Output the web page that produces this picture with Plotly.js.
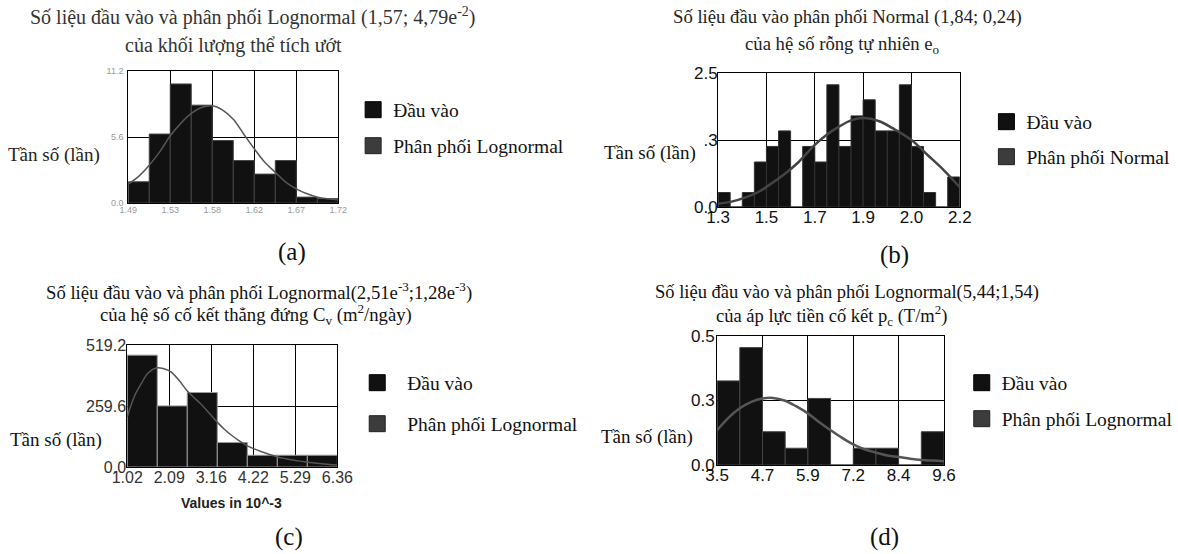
<!DOCTYPE html>
<html>
<head>
<meta charset="utf-8">
<script src="https://cdn.plot.ly/plotly-3.0.1.min.js"></script>
<style>html,body{margin:0;padding:0;background:#fff;}#chart{width:1178px;height:554px;}</style>
</head>
<body>
<div id="chart"></div>
<script>
// ---------------- DATA ----------------
// (a) khối lượng thể tích ướt
const aBinCenters = [1.5015,1.5245,1.5475,1.5705,1.5935,1.6165,1.6395,1.6625,1.6855,1.7085];
const aBinWidth = 0.023;
const aCounts = [1.8,5.85,10.1,8.3,5.3,3.6,2.45,3.6,0.5,0.37];
const aCurveX = [1.490,1.502,1.513,1.525,1.536,1.548,1.559,1.570,1.582,1.593,1.605,1.616,1.628,1.639,1.651,1.662,1.674,1.685,1.697,1.708,1.720];
const aCurveY = [1.6,2.3,3.2,4.4,5.7,6.8,7.6,8.1,8.25,7.9,7.1,5.9,4.6,3.5,2.6,1.8,1.2,0.8,0.5,0.35,0.25];
const aXTickVals = [1.49,1.536,1.582,1.628,1.674,1.72];
const aXTickText = ["1.49","1.53","1.58","1.62","1.67","1.72"];
const aYTickVals = [0,5.6,11.2];
const aYTickText = ["0.0","5.6","11.2"];

// (b) hệ số rỗng tự nhiên
const bBinCenters = [1.3225,1.3675,1.4125,1.4575,1.5025,1.5475,1.5925,1.6375,1.6825,1.7275,1.7725,1.8175,1.8625,1.9075,1.9525,1.9975,2.0425,2.0875,2.1325,2.1775];
const bBinWidth = 0.045;
const bCounts = [0.27,0,0.27,0.84,1.13,1.42,0,1.13,0.84,2.28,1.13,1.7,2.0,1.42,1.42,2.28,1.13,0.27,0,0.56];
const bCurveX = [1.30,1.35,1.40,1.45,1.48,1.55,1.60,1.66,1.70,1.75,1.80,1.84,1.90,1.95,2.02,2.08,2.14,2.20];
const bCurveY = [0.06,0.10,0.175,0.28,0.375,0.625,0.84,1.16,1.33,1.5,1.625,1.66,1.6,1.47,1.25,0.97,0.69,0.37];
const bXTickVals = [1.3,1.48,1.66,1.84,2.02,2.2];
const bXTickText = ["1.3","1.5","1.7","1.9","2.0","2.2"];
const bYTickVals = [0,1.25,2.5];
const bYTickText = ["0.0",".3","2.5"];

// (c) hệ số cố kết thẳng đứng Cv
const cBinCenters = [1.4014,2.1643,2.9271,3.6900,4.4529,5.2157,5.9786];
const cBinWidth = 0.7629;
const cCounts = [476,260,317,104,50,50,50];
const cCurveX = [1.02,1.20,1.38,1.55,1.77,1.95,2.13,2.33,2.53,2.70,2.88,3.10,3.30,3.48,3.67,3.86,4.05,4.26,4.47,4.66,4.84,5.03,5.22,5.40,5.59,5.78,5.97,6.16,6.36];
const cCurveY = [213,300,356,400,422,418,405,370,327,298,270,230,192,162,135,112,92,76,63,52,43,36,30,25,21,17,14,11,9];
const cXTickVals = [1.02,2.088,3.156,4.224,5.292,6.36];
const cXTickText = ["1.02","2.09","3.16","4.22","5.29","6.36"];
const cYTickVals = [0,259.6,519.2];
const cYTickText = ["0.0","259.6","519.2"];

// (d) áp lực tiền cố kết pc
const dBinCenters = [3.805,4.415,5.025,5.635,6.245,6.855,7.465,8.075,8.685,9.295];
const dBinWidth = 0.61;
const dCounts = [0.326,0.455,0.129,0.065,0.258,0,0.065,0.065,0,0.129];
const dCurveX = [3.50,3.81,4.10,4.42,4.72,5.00,5.33,5.62,5.94,6.23,6.55,6.85,7.16,7.46,7.77,8.08,8.39,8.69,9.00,9.31,9.60];
const dCurveY = [0.135,0.184,0.219,0.245,0.258,0.26,0.249,0.228,0.20,0.168,0.135,0.106,0.08,0.061,0.048,0.037,0.031,0.024,0.019,0.017,0.015];
const dXTickVals = [3.5,4.72,5.94,7.16,8.38,9.6];
const dXTickText = ["3.5","4.7","5.9","7.2","8.4","9.6"];
const dYTickVals = [0,0.25,0.5];
const dYTickText = ["0.0","0.3","0.5"];

// Texts
const legendInput = "Đầu vào";
const legendLogn = "Phân phối Lognormal";
const legendNorm = "Phân phối Normal";
const yTitle = "Tần số (lần)";

// ---------------- LAYOUT HELPERS ----------------
const W = 1178, H = 554;
const px = x => x / W;
const py = y => 1 - y / H;
const SERIF = "Liberation Serif";
const SANS = "Liberation Sans";

function xAxis(l, r, range, vals, text, font, anchor, standoff) {
  return {domain:[px(l),px(r)], range:range, tickvals:vals, ticktext:text, tickmode:'array',
    showgrid:true, gridcolor:'#000', gridwidth:1, zeroline:false, showline:true, linecolor:'#000',
    linewidth:1, mirror:true, ticks:'', ticklen:0, tickfont:font, anchor:anchor, fixedrange:true,
    ticklabelstandoff:standoff};
}
function yAxis(t, b, range, vals, text, font, anchor, standoff) {
  return {domain:[py(b),py(t)], range:range, tickvals:vals, ticktext:text, tickmode:'array',
    showgrid:true, gridcolor:'#000', gridwidth:1, zeroline:false, showline:true, linecolor:'#000',
    linewidth:1, mirror:true, ticks:'', ticklen:0, tickfont:font, anchor:anchor, fixedrange:true,
    ticklabelstandoff:standoff};
}

const traces = [];
function addChart(xa, ya, centers, width, counts, cx, cy, barLine, curveColor, curveWidth, leg1, leg2, name2) {
  traces.push({type:'bar', x:centers, y:counts, width:width, xaxis:xa, yaxis:ya, showlegend:false,
    marker:{color:'#111', line:{color:barLine, width:1}}, hoverinfo:'skip'});
  traces.push({type:'scatter', mode:'lines', x:cx, y:cy, xaxis:xa, yaxis:ya, showlegend:false,
    line:{color:curveColor, width:curveWidth, shape:'spline', smoothing:1}, hoverinfo:'skip'});
  traces.push({type:'scatter', mode:'markers', x:[null], y:[null], xaxis:xa, yaxis:ya, name:legendInput,
    legend:leg1, marker:{symbol:'square', size:16, color:'#111', line:{color:'#000', width:1}}});
  traces.push({type:'scatter', mode:'markers', x:[null], y:[null], xaxis:xa, yaxis:ya, name:name2,
    legend:leg2, marker:{symbol:'square', size:16, color:'#3c3c3c', line:{color:'#222', width:1}}});
}

addChart('x','y', aBinCenters, aBinWidth, aCounts, aCurveX, aCurveY, '#444', '#555', 1.5, 'legend','legend2', legendLogn);
addChart('x2','y2', bBinCenters, bBinWidth, bCounts, bCurveX, bCurveY, '#333', '#444', 2.5, 'legend3','legend4', legendNorm);
addChart('x3','y3', cBinCenters, cBinWidth, cCounts, cCurveX, cCurveY, '#999', '#555', 1.5, 'legend5','legend6', legendLogn);
addChart('x4','y4', dBinCenters, dBinWidth, dCounts, dCurveX, dCurveY, '#444', '#555', 2.5, 'legend7','legend8', legendLogn);

const legFont = {family:SERIF, size:19.5, color:'#111'};
function leg(x, y, itemwidth) {
  return {x:px(x), y:py(y), xanchor:'left', yanchor:'middle', bgcolor:'rgba(0,0,0,0)', borderwidth:0,
    font:legFont, itemwidth:itemwidth || 30, itemclick:false, itemdoubleclick:false};
}

function ann(text, x, y, size, color, family, weight) {
  return {text:text, x:px(x), y:py(y), xref:'paper', yref:'paper', showarrow:false,
    xanchor:'center', yanchor:'middle', font:{family:family || SERIF, size:size, color:color || '#111', weight:weight || 'normal'}};
}

const annotations = [
  // (a)
  ann("Số liệu đầu vào và phân phối Lognormal (1,57; 4,79e<sup>-2</sup>)", 256, 17, 20, '#333'),
  ann("của khối lượng thể tích ướt", 237, 45, 20, '#333'),
  ann(yTitle, 55, 155, 19, '#222'),
  ann("(a)", 296, 252, 25, '#111'),
  // (b)
  ann("Số liệu đầu vào phân phối Normal (1,84; 0,24)", 859, 17, 18.7, '#222'),
  ann("của hệ số rỗng tự nhiên e<sub>o</sub>", 854, 45, 18.7, '#222'),
  ann(yTitle, 659, 153, 19, '#111'),
  ann("(b)", 907, 255, 25, '#111'),
  // (c)
  ann("Số liệu đầu vào và phân phối Lognormal(2,51e<sup>-3</sup>;1,28e<sup>-3</sup>)", 263, 291, 18.7, '#111'),
  ann("của hệ số cố kết thẳng đứng C<sub>v</sub> (m<sup>2</sup>/ngày)", 260, 314, 18.7, '#111'),
  ann(yTitle, 57, 440, 19, '#111'),
  ann("Values in 10^-3", 235, 503, 14, '#222', SANS, 'bold'),
  ann("(c)", 293, 537, 25, '#111'),
  // (d)
  ann("Số liệu đầu vào và phân phối Lognormal(5,44;1,54)", 859, 292, 18.5, '#111'),
  ann("của áp lực tiền cố kết p<sub>c</sub> (T/m<sup>2</sup>)", 843, 315, 18.5, '#111'),
  ann(yTitle, 656, 437, 19, '#111'),
  ann("(d)", 897, 537, 25, '#111')
];

const fA = {family:SANS, size:9, color:'#999'};
const fB = {family:SANS, size:17, color:'#111'};
const fC = {family:SANS, size:16, color:'#333'};
const fD = {family:SANS, size:17, color:'#111'};

const layout = {
  width:W, height:H, margin:{l:0,r:0,t:0,b:0}, paper_bgcolor:'#fff', plot_bgcolor:'#fff',
  font:{family:SERIF, size:19, color:'#111'},
  bargap:0, showlegend:true, hovermode:false,
  xaxis: xAxis(130, 343, [1.49,1.72], aXTickVals, aXTickText, fA, 'y', -2),
  yaxis: yAxis(71, 203, [0,11.2], aYTickVals, aYTickText, fA, 'x', 2),
  xaxis2: xAxis(728, 973, [1.3,2.2], bXTickVals, bXTickText, fB, 'y2', -5),
  yaxis2: yAxis(73, 207, [0,2.5], bYTickVals, bYTickText, fB, 'x2', -4),
  xaxis3: xAxis(129, 342, [1.02,6.36], cXTickVals, cXTickText, fC, 'y3', -4),
  yaxis3: yAxis(345, 467, [0,519.2], cYTickVals, cYTickText, fC, 'x3', -3),
  xaxis4: xAxis(727, 957, [3.5,9.6], dXTickVals, dXTickText, fD, 'y4', -5),
  yaxis4: yAxis(336, 465, [0,0.5], dYTickVals, dYTickText, fD, 'x4', -2),
  legend: leg(358, 110),
  legend2: leg(358, 146),
  legend3: leg(1000, 122),
  legend4: leg(1000, 157),
  legend5: leg(352, 383, 50),
  legend6: leg(352, 424, 50),
  legend7: leg(975, 383),
  legend8: leg(975, 419),
  annotations: annotations
};

Plotly.newPlot('chart', traces, layout, {staticPlot:true, displayModeBar:false});
</script>
</body>
</html>
